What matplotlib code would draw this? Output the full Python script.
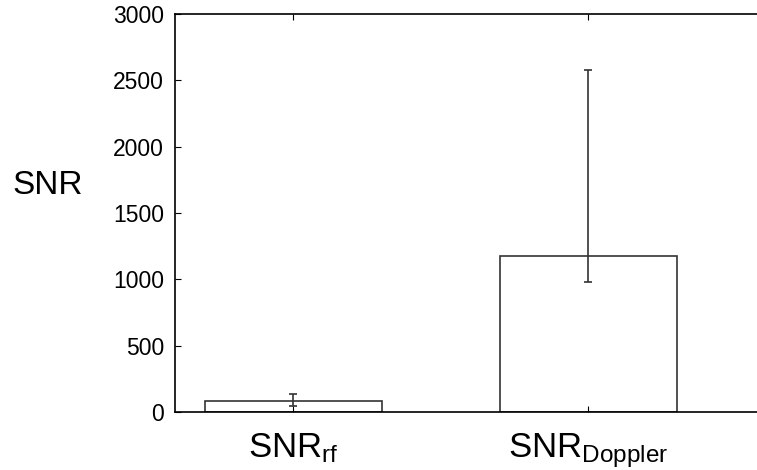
import matplotlib
matplotlib.use("Agg")
import matplotlib.pyplot as plt
import numpy as np

# values
labels = [r"$\mathregular{SNR_{rf}}$", r"$\mathregular{SNR_{Doppler}}$"]
means = [85, 1178]
err_low = [42, 196]
err_high = [48, 1400]
yticks = [0, 500, 1000, 1500, 2000, 2500, 3000]

plt.rcParams["font.family"] = ["Liberation Sans", "DejaVu Sans"]
plt.rcParams["mathtext.fontset"] = "custom"
plt.rcParams["mathtext.rm"] = "Liberation Sans"

fig = plt.figure(figsize=(7.57, 4.70), dpi=100)
ax = fig.add_axes([175 / 757, 1 - 412 / 470, 590 / 757, 398 / 470])

x = np.arange(1, len(means) + 1)
ax.bar(x, means, width=0.6, color="white", edgecolor="#333333", linewidth=1.2)
ax.errorbar(x, means, yerr=[err_low, err_high], fmt="none",
            ecolor="#333333", elinewidth=1.2, capsize=3, capthick=1.2)

ax.set_xlim(0.6, 2.6)
ax.set_ylim(0, 3000)
ax.set_yticks(yticks)
ax.set_xticks(x)
ax.set_xticklabels(labels, fontsize=25)
ax.tick_params(axis="y", labelsize=16.5, direction="in", length=4, pad=8,
               right=True)
ax.tick_params(axis="x", direction="in", length=4, pad=14, top=True)

for s in ax.spines.values():
    s.set_linewidth(1.2)

ax.set_ylabel("SNR", fontsize=24, rotation=0, va="center", ha="center")
ax.yaxis.set_label_coords((48 - 175) / 590, (412 - 186) / 398)

fig.savefig("out.png", dpi=100)
